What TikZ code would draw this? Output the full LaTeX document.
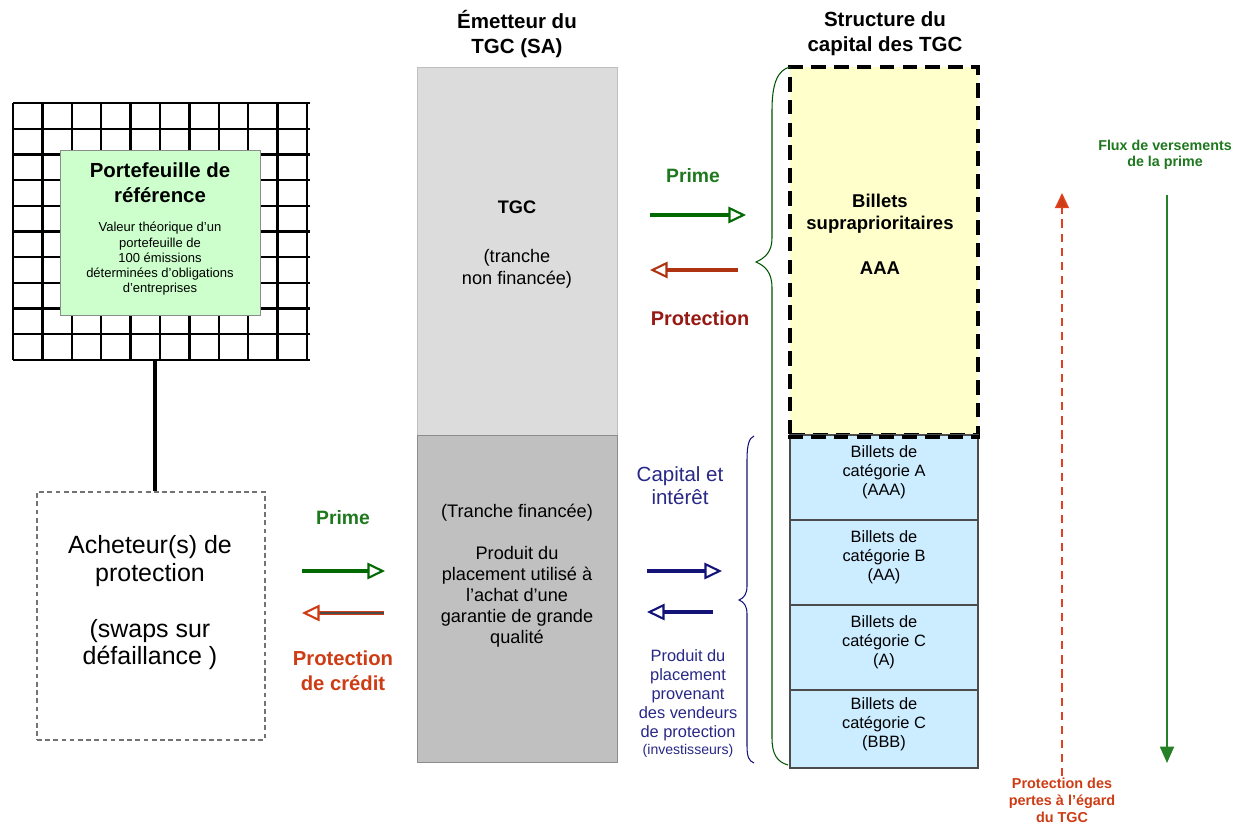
\documentclass[tikz,border=0pt]{standalone}
\usepackage{fontspec}
\setmainfont{Liberation Sans}
\usetikzlibrary{arrows.meta}
\definecolor{dgreen}{RGB}{0,105,0}
\definecolor{tgreen}{RGB}{30,120,30}
\definecolor{dred}{RGB}{150,25,20}
\definecolor{ored}{RGB}{205,60,20}
\definecolor{navy}{RGB}{20,20,120}
\definecolor{tnavy}{RGB}{40,40,135}
\definecolor{refgreen}{RGB}{204,255,204}
\definecolor{graytop}{RGB}{220,220,220}
\definecolor{graybot}{RGB}{192,192,192}
\definecolor{yel}{RGB}{255,255,204}
\definecolor{lblue}{RGB}{204,236,255}
\definecolor{dashred}{RGB}{225,65,30}
\tikzset{
  fsz/.style 2 args={font=\fontsize{#1}{#2}\selectfont},
  txt/.style={align=center, inner sep=0pt},
  openarrow/.style={line width=3.4pt, -{Triangle[open, length=15pt, width=14pt, line width=1.8pt]}},
  tranche/.style={draw=black!70, line width=1.2pt, fill=lblue},
}
\begin{document}
\begin{tikzpicture}[x=0.03cm, y=-0.03cm]
\useasboundingbox (0,0) rectangle (1236,823);

% ---------- reference portfolio grid ----------
\foreach \i in {0,...,10} {
  \draw[line width=2pt] ({13+29.4*\i},103) -- ({13+29.4*\i},360);
  \draw[line width=2pt] (13,{103+25.7*\i}) -- (310,{103+25.7*\i});
}
\node[draw=black!45, line width=0.8pt, fill=refgreen, minimum width=200*0.03cm, minimum height=165*0.03cm, inner sep=0pt] (ref) at (160,232.5) {};
\node[txt, font=\bfseries\fontsize{17.4}{21}\selectfont] (reftitle) at (160,183) {Portefeuille de\\référence};
\node[txt, fsz={11.1}{13}] (refdesc) at (160,259) {Valeur théorique d’un\\portefeuille de\\100 émissions\\déterminées d’obligations\\d’entreprises};
\coordinate (gridbot) at (155,360);

% ---------- protection buyer ----------
\node[draw=black!55, dash pattern=on 4pt off 3pt, line width=0.9pt, minimum width=228*0.03cm, minimum height=248*0.03cm, inner sep=0pt] (buyer) at (151,616) {};
\node[txt, fsz={21.3}{24}] (buyertxt1) at (150,561) {Acheteur(s) de\\protection};
\node[txt, fsz={21.3}{23}] (buyertxt2) at (150,645) {(swaps sur\\défaillance )};
\draw[line width=3.6pt] (gridbot) -- (buyer.north -| gridbot);

% ---------- issuer column ----------
\node[txt, font=\bfseries\fontsize{17.5}{21.3}\selectfont] (issuertitle) at (517,34) {Émetteur du\\TGC (SA)};
\node[draw=black!25, line width=0.8pt, fill=graytop, minimum width=200*0.03cm, minimum height=368*0.03cm, inner sep=0pt] (unfunded) at (517,251) {};
\node[draw=black!45, line width=0.8pt, fill=graybot, minimum width=200*0.03cm, minimum height=327*0.03cm, inner sep=0pt] (funded) at (517,598.5) {};
\node[txt, font=\bfseries\fontsize{15.5}{18.5}\selectfont] (tgc) at (517,207) {TGC};
\node[txt, fsz={15.5}{18.8}] (tgcsub) at (517,269) {(tranche\\non financée)};
\node[txt, fsz={15.5}{18}] (fundedt) at (517,513) {(Tranche financée)};
\node[txt, fsz={15.5}{18}] (fundedd) at (517,597) {Produit du\\placement utilisé à\\l’achat d’une\\garantie de grande\\qualité};

% ---------- capital structure ----------
\node[txt, font=\bfseries\fontsize{17.5}{21.3}\selectfont] (structtitle) at (885,34) {Structure du\\capital des TGC};
\node[draw=black, fill=yel, line width=3.4pt, dash pattern=on 12.5pt off 7pt, minimum width=188*0.03cm, minimum height=368*0.03cm, inner sep=0pt] (senior) at (884,251) {};
\node[txt, font=\bfseries\fontsize{15.8}{18.8}\selectfont] (seniort) at (880,214) {Billets\\supraprioritaires};
\node[txt, font=\bfseries\fontsize{15.8}{18.8}\selectfont] (seniorr) at (880,268) {AAA};
\node[tranche, minimum width=188*0.03cm, minimum height=85*0.03cm, inner sep=0pt] (trA) at (884,477.5) {};
\node[tranche, minimum width=188*0.03cm, minimum height=85*0.03cm, inner sep=0pt] (trB) at (884,562.5) {};
\node[tranche, minimum width=188*0.03cm, minimum height=85*0.03cm, inner sep=0pt] (trC) at (884,647.5) {};
\node[tranche, minimum width=188*0.03cm, minimum height=78*0.03cm, inner sep=0pt] (trD) at (884,729) {};
\draw[black, line width=3.4pt, dash pattern=on 12.5pt off 7pt] (senior.south west) -- (senior.south east);
\node[txt, fsz={14}{16.3}] (trAt) at (884,472) {Billets de\\catégorie A\\(AAA)};
\node[txt, fsz={14}{16.3}] (trBt) at (884,557) {Billets de\\catégorie B\\(AA)};
\node[txt, fsz={14}{16.3}] (trCt) at (884,642) {Billets de\\catégorie C\\(A)};
\node[txt, fsz={14}{16.3}] (trDt) at (884,724) {Billets de\\catégorie C\\(BBB)};

% ---------- braces ----------
\draw[dgreen!80!black, line width=0.9pt] (790,67) .. controls (777,70) and (772,85) .. (772,110) -- (772,238) .. controls (772,252) and (765,258) .. (756,262) .. controls (765,266) and (772,272) .. (772,288) -- (772,738) .. controls (772,754) and (777,762) .. (788,765);
\draw[navy, line width=0.9pt] (754,436) .. controls (749,438) and (747,445) .. (747,460) -- (747,586) .. controls (747,594) and (744,598) .. (739,600) .. controls (744,602) and (747,606) .. (747,614) -- (747,746) .. controls (747,757) and (749,761) .. (754,763);

% ---------- arrows: issuer <-> senior ----------
\node[txt, font=\bfseries\fontsize{16.5}{20}\selectfont, text=tgreen] (prime1) at (693,176) {Prime};
\coordinate (p1s) at (650,215); \coordinate (p1e) at (746,215);
\draw[openarrow, dgreen] (p1s) -- (p1e);
\coordinate (r1s) at (738,270); \coordinate (r1e) at (650,270);
\draw[openarrow, ored!85!black] (r1s) -- (r1e);
\node[txt, font=\bfseries\fontsize{17}{20}\selectfont, text=dred] (prot1) at (700,318) {Protection};

% ---------- arrows: buyer <-> issuer ----------
\node[txt, font=\bfseries\fontsize{16.5}{20}\selectfont, text=tgreen] (prime2) at (343,518) {Prime};
\coordinate (p2s) at (302,571); \coordinate (p2e) at (385,571);
\draw[openarrow, dgreen] (p2s) -- (p2e);
\coordinate (r2s) at (384,613); \coordinate (r2e) at (302,613);
\draw[openarrow, ored] (r2s) -- (r2e);
\draw[line width=1.2pt, black!70] (320,613) -- (384,613);
\node[txt, font=\bfseries\fontsize{17.3}{21.3}\selectfont, text=ored] (prot2) at (343,671) {Protection\\de crédit};

% ---------- arrows: issuer <-> tranches ----------
\node[txt, fsz={17.5}{19.8}, text=tnavy] (capint) at (680,486) {Capital et\\intérêt};
\coordinate (c1s) at (647,571); \coordinate (c1e) at (722,571);
\draw[openarrow, navy] (c1s) -- (c1e);
\coordinate (c2s) at (713,612); \coordinate (c2e) at (647,612);
\draw[openarrow, navy] (c2s) -- (c2e);
\node[txt, fsz={14}{16.2}, text=tnavy] (proceeds) at (688,695) {Produit du\\placement\\provenant\\des vendeurs\\de protection};
\node[txt, fsz={12}{14}, text=tnavy] (investors) at (688,751) {(investisseurs)};

% ---------- vertical flows ----------
\node[txt, font=\bfseries\fontsize{12.2}{13.8}\selectfont, text=tgreen] (fluxt) at (1165,155) {Flux de versements\\de la prime};
\coordinate (fs) at (1167,195); \coordinate (fe) at (1167,763);
\draw[dgreen!85, line width=1.4pt, -{Triangle[length=14pt, width=12pt]}] (fs) -- (fe);
\coordinate (ds) at (1062,776); \coordinate (de) at (1062,193);
\draw[dashred, line width=1.4pt, dash pattern=on 7pt off 5pt, -{Triangle[length=13pt, width=12pt, fill=ored]}] (ds) -- (de);
\node[txt, font=\bfseries\fontsize{12.3}{14.4}\selectfont, text=ored] (losst) at (1062,800) {Protection des\\pertes à l’égard\\du TGC};
\end{tikzpicture}
\end{document}
